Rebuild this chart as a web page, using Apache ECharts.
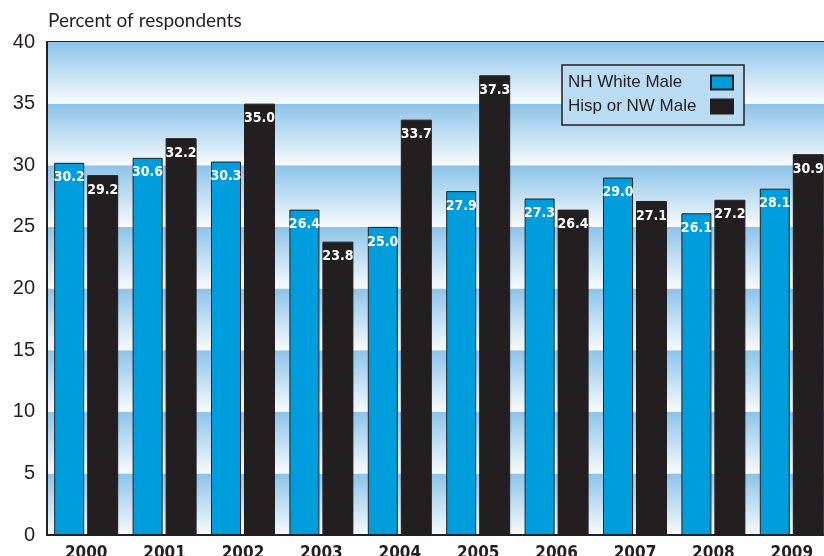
<!DOCTYPE html>
<html>
<head>
<meta charset="utf-8">
<script src="https://cdn.jsdelivr.net/npm/echarts@6/dist/echarts.min.js"></script>
<style>
  html, body { margin: 0; padding: 0; background: #fff; }
  #chart { width: 824px; height: 556px; }
</style>
</head>
<body>
<div id="chart"></div>
<script>
    // data
    var years = ['2000', '2001', '2002', '2003', '2004', '2005', '2006', '2007', '2008', '2009']
    var whiteMale = [30.2, 30.6, 30.3, 26.4, 25.0, 27.9, 27.3, 29.0, 26.1, 28.1]
    var hispMale = [29.2, 32.2, 35.0, 23.8, 33.7, 37.3, 26.4, 27.1, 27.2, 30.9]
    var seriesNames = ['NH White Male', 'Hisp or NW Male']

    var ink = '#231f20'
    var narrow = '"DejaVu Sans", "Liberation Sans", sans-serif'
    var chart = echarts.init(document.getElementById('chart'))

    // each 5-point band fades from blue at its top to white at its bottom
    var band = new echarts.graphic.LinearGradient(0, 0, 0, 1, [
        {offset: 0, color: '#8cc3e8'},
        {offset: 1, color: '#f7fbfe'}
    ])

    var barLabel = {
        show: true,
        position: 'insideTop',
        distance: 8,
        color: '#fff',
        fontFamily: narrow,
        fontWeight: 'bold condensed',
        fontSize: 14,
        formatter: function (p) {
            return p.value.toFixed(1)
        }
    }

    chart.setOption({
        animation: false,
        title: {
            text: 'Percent of respondents',
            left: 43,
            top: 6,
            textStyle: {
                fontFamily: 'Lato, "Noto Sans", sans-serif',
                fontWeight: 'normal',
                fontSize: 19,
                color: ink
            }
        },
        grid: {
            left: 47,
            top: 42,
            width: 784,
            height: 493,
            outerBoundsMode: 'none',
            containLabel: false,
            show: true,
            borderColor: ink,
            borderWidth: 2,
            backgroundColor: 'transparent'
        },
        legend: {
            data: seriesNames,
            orient: 'vertical',
            align: 'right',
            left: 562,
            top: 65,
            padding: [9, 10, 10, 6],
            itemGap: 7,
            itemWidth: 22,
            itemHeight: 14,
            icon: 'rect',
            backgroundColor: '#b9dcf2',
            borderColor: ink,
            borderWidth: 1.5,
            borderRadius: 0,
            formatter: function (name) {
                return '{t|' + name + '}'
            },
            textStyle: {
                rich: {
                    t: {
                        width: 138,
                        align: 'left',
                        fontFamily: '"Liberation Sans", Arial, sans-serif',
                        fontSize: 17,
                        color: ink
                    }
                }
            }
        },
        xAxis: {
            type: 'category',
            data: years,
            axisLine: {lineStyle: {color: ink, width: 2}},
            axisTick: {inside: true, length: 11, lineStyle: {color: ink, width: 1.5}},
            axisLabel: {
                margin: 10,
                color: ink,
                fontFamily: narrow,
                fontWeight: 'bold condensed',
                fontSize: 17
            }
        },
        yAxis: {
            type: 'value',
            min: 0,
            max: 40,
            interval: 5,
            axisLine: {show: true, lineStyle: {color: ink, width: 2}},
            axisTick: {show: false},
            splitLine: {show: false},
            splitArea: {show: true, areaStyle: {color: [band]}},
            axisLabel: {
                margin: 12,
                color: ink,
                fontFamily: '"Liberation Sans", Arial, sans-serif',
                fontSize: 20
            }
        },
        series: [
            {
                name: seriesNames[0],
                type: 'bar',
                data: whiteMale,
                barWidth: 30,
                barGap: '10%',
                itemStyle: {color: '#009ddc', borderColor: ink, borderWidth: 1},
                label: barLabel
            },
            {
                name: seriesNames[1],
                type: 'bar',
                data: hispMale,
                barWidth: 31,
                itemStyle: {color: ink, borderColor: ink, borderWidth: 1},
                label: barLabel
            }
        ]
    })
</script>
</body>
</html>
